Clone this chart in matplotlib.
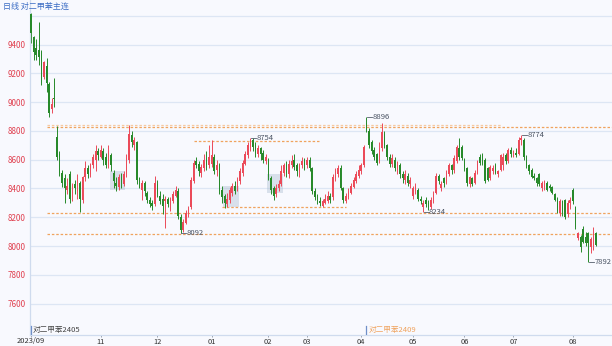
import numpy as np
import matplotlib
matplotlib.use('Agg')
import matplotlib.pyplot as plt

plt.rcParams['font.family'] = ['Noto Sans CJK SC', 'DejaVu Sans']

# 日K数据（按交易日顺序），2023/09 - 2024/08
opens = [
    9614, 9454, 9380, 9365, 9350, 9176, 9250, 9130, 8950, 9030,
    8760, 8640, 8510, 8470, 8390, 8500, 8340, 8430, 8380, 8440,
    8320, 8480, 8540, 8500, 8560, 8600, 8660, 8620, 8660, 8620,
    8560, 8630, 8510, 8440, 8410, 8480, 8430, 8500, 8600, 8770,
    8700, 8720, 8470, 8390, 8440, 8370, 8320, 8300, 8290, 8430,
    8350, 8330, 8310, 8330, 8260, 8310, 8350, 8380, 8200, 8110,
    8160, 8220, 8270, 8450, 8590, 8570, 8510, 8540, 8610, 8560,
    8570, 8620, 8530, 8560, 8390, 8350, 8290, 8320, 8370, 8420,
    8390, 8450, 8510, 8570, 8630, 8680, 8740, 8700, 8640, 8680,
    8650, 8590, 8600, 8470, 8400, 8360, 8400, 8430, 8510, 8560,
    8500, 8560, 8600, 8560, 8520, 8560, 8600, 8560, 8600, 8540,
    8380, 8340, 8310, 8280, 8300, 8310, 8350, 8340, 8470, 8500,
    8540, 8400, 8310, 8340, 8370, 8410, 8450, 8490, 8520, 8560,
    8855, 8800, 8720, 8670, 8640, 8600, 8680, 8780, 8700, 8620,
    8570, 8600, 8530, 8560, 8500, 8460, 8490, 8430, 8350, 8380,
    8390, 8330, 8270, 8320, 8300, 8270, 8310, 8370, 8490, 8400,
    8470, 8440, 8500, 8560, 8530, 8590, 8680, 8690, 8600, 8540,
    8430, 8470, 8440, 8510, 8620, 8630, 8600, 8540, 8470, 8520,
    8560, 8500, 8530, 8560, 8630, 8590, 8670, 8640, 8650, 8640,
    8740, 8740, 8610, 8560, 8530, 8490, 8470, 8500, 8400, 8410,
    8440, 8420, 8410, 8360, 8330, 8230, 8310, 8320, 8220, 8300,
    8390, 8270, 8055, 8060, 8120, 8060, 8090, 7990, 8000, 8090,
]
highs = [
    9620, 9460, 9440, 9560, 9363, 9290, 9310, 9140, 9030, 9170,
    8838, 8660, 8530, 8500, 8470, 8520, 8440, 8460, 8500, 8450,
    8490, 8590, 8560, 8580, 8640, 8700, 8680, 8700, 8680, 8650,
    8700, 8650, 8530, 8480, 8500, 8510, 8520, 8640, 8842, 8800,
    8760, 8730, 8480, 8460, 8450, 8380, 8340, 8320, 8490, 8460,
    8380, 8360, 8350, 8340, 8340, 8380, 8420, 8400, 8220, 8190,
    8250, 8280, 8480, 8600, 8620, 8590, 8570, 8640, 8660, 8700,
    8740, 8640, 8600, 8580, 8420, 8360, 8370, 8410, 8440, 8450,
    8480, 8540, 8600, 8660, 8720, 8754, 8750, 8720, 8700, 8690,
    8670, 8640, 8610, 8490, 8420, 8430, 8460, 8560, 8580, 8590,
    8600, 8630, 8640, 8580, 8580, 8620, 8610, 8620, 8620, 8550,
    8400, 8360, 8340, 8330, 8360, 8380, 8370, 8500, 8540, 8560,
    8560, 8410, 8370, 8400, 8440, 8480, 8520, 8560, 8580, 8700,
    8896, 8820, 8740, 8690, 8650, 8720, 8855, 8800, 8710, 8640,
    8640, 8620, 8590, 8580, 8520, 8530, 8510, 8480, 8420, 8440,
    8400, 8350, 8320, 8340, 8320, 8340, 8380, 8510, 8500, 8450,
    8480, 8530, 8580, 8570, 8630, 8700, 8750, 8700, 8610, 8550,
    8490, 8480, 8530, 8600, 8640, 8650, 8610, 8550, 8560, 8560,
    8580, 8530, 8640, 8650, 8650, 8680, 8690, 8670, 8680, 8760,
    8774, 8750, 8630, 8570, 8540, 8510, 8480, 8510, 8450, 8460,
    8450, 8430, 8420, 8370, 8340, 8330, 8320, 8330, 8320, 8340,
    8400, 8280, 8100, 8080, 8140, 8100, 8100, 8060, 8130, 8100,
]
lows = [
    9410, 9294, 9294, 9260, 9120, 9160, 9071, 8897, 8925, 8970,
    8600, 8490, 8410, 8300, 8360, 8300, 8310, 8360, 8330, 8237,
    8300, 8450, 8470, 8480, 8540, 8520, 8600, 8610, 8560, 8540,
    8540, 8520, 8400, 8380, 8390, 8400, 8420, 8480, 8580, 8690,
    8670, 8430, 8400, 8320, 8350, 8300, 8270, 8250, 8280, 8340,
    8290, 8220, 8125, 8270, 8240, 8300, 8340, 8190, 8092, 8100,
    8150, 8200, 8260, 8440, 8540, 8490, 8480, 8520, 8530, 8540,
    8550, 8500, 8490, 8360, 8300, 8262, 8270, 8300, 8350, 8360,
    8380, 8430, 8490, 8560, 8610, 8660, 8660, 8620, 8620, 8600,
    8580, 8570, 8460, 8360, 8320, 8340, 8380, 8420, 8490, 8480,
    8470, 8540, 8530, 8490, 8480, 8540, 8530, 8540, 8520, 8360,
    8320, 8290, 8280, 8270, 8290, 8300, 8300, 8320, 8450, 8480,
    8390, 8300, 8300, 8330, 8360, 8400, 8440, 8470, 8500, 8550,
    8790, 8680, 8640, 8600, 8560, 8580, 8660, 8680, 8600, 8550,
    8550, 8520, 8500, 8470, 8440, 8430, 8420, 8400, 8330, 8360,
    8310, 8290, 8234, 8270, 8250, 8260, 8300, 8360, 8430, 8380,
    8410, 8430, 8490, 8500, 8510, 8580, 8600, 8600, 8520, 8420,
    8410, 8420, 8430, 8500, 8560, 8560, 8440, 8450, 8460, 8500,
    8500, 8480, 8520, 8530, 8570, 8580, 8620, 8620, 8620, 8630,
    8700, 8600, 8540, 8500, 8470, 8460, 8420, 8420, 8380, 8390,
    8380, 8380, 8360, 8310, 8230, 8210, 8210, 8190, 8200, 8260,
    8290, 8120, 8040, 7960, 8020, 8000, 7892, 7950, 7970, 8000,
]
closes = [
    9480, 9350, 9330, 9315, 9134, 9280, 9134, 8925, 8985, 9020,
    8620, 8510, 8440, 8400, 8420, 8330, 8420, 8400, 8470, 8330,
    8480, 8540, 8500, 8560, 8620, 8660, 8630, 8670, 8600, 8560,
    8660, 8560, 8450, 8420, 8480, 8460, 8500, 8610, 8780, 8720,
    8740, 8460, 8430, 8440, 8380, 8320, 8290, 8280, 8440, 8360,
    8310, 8280, 8330, 8290, 8320, 8360, 8390, 8210, 8110, 8170,
    8230, 8260, 8460, 8580, 8560, 8520, 8550, 8600, 8560, 8620,
    8630, 8520, 8560, 8380, 8340, 8300, 8330, 8390, 8420, 8380,
    8460, 8520, 8580, 8640, 8700, 8740, 8690, 8650, 8680, 8640,
    8600, 8620, 8480, 8390, 8350, 8400, 8430, 8520, 8560, 8510,
    8570, 8590, 8550, 8520, 8560, 8590, 8560, 8600, 8540, 8380,
    8340, 8310, 8300, 8310, 8330, 8350, 8320, 8480, 8520, 8540,
    8400, 8320, 8350, 8380, 8420, 8460, 8500, 8530, 8560, 8690,
    8810, 8700, 8660, 8620, 8580, 8680, 8790, 8700, 8620, 8570,
    8610, 8540, 8560, 8500, 8470, 8500, 8440, 8460, 8400, 8410,
    8330, 8310, 8300, 8290, 8270, 8320, 8360, 8490, 8450, 8430,
    8440, 8510, 8560, 8530, 8610, 8690, 8620, 8610, 8540, 8440,
    8480, 8430, 8510, 8590, 8580, 8570, 8450, 8460, 8550, 8540,
    8510, 8520, 8630, 8620, 8590, 8670, 8640, 8650, 8630, 8740,
    8750, 8620, 8560, 8520, 8480, 8470, 8440, 8430, 8440, 8450,
    8390, 8400, 8370, 8320, 8240, 8310, 8230, 8200, 8300, 8320,
    8310, 8130, 8090, 7990, 8030, 8020, 8020, 8050, 8070, 8010,
]

# 每月交易日数 / 月份标签
month_days = [10, 17, 22, 21, 22, 15, 21, 20, 20, 19, 23, 10]
month_labels = ['2023/09', '10', '11', '12', '01', '02', '03', '04', '05', '06', '07', '08']

# 支撑/压力线
sr_levels = [8842, 8826, 8728, 8272, 8228, 8081]
sr_start = [6, 6, 63, 74, 6, 6]
sr_end = [182, 226, 112, 122, 226, 226]

# 整理区间方框
zone_first = [31, 75, 92]
zone_last = [36, 80, 97]
zone_low = [8390, 8271, 8369]
zone_high = [8522, 8417, 8501]

# 标注的高低点
mark_high_idx = [85, 130, 190]
mark_low_idx = [58, 152, 216]

# 合约切换
contract_idx = [0, 130]
contract_names = ['对二甲苯2405', '对二甲苯2409']

o = np.array(opens); h = np.array(highs); l = np.array(lows); c = np.array(closes)
x = np.arange(len(c))
up = c >= o
red, green = '#eb4a59', '#27892a'
cols = np.where(up, red, green)

fig = plt.figure(figsize=(6.12, 3.46), dpi=100)
fig.patch.set_facecolor('#f8f9fe')
ax = fig.add_axes([30 / 612, 11 / 346, 582 / 612, 335 / 346])
ax.set_facecolor('#f8f9fe')

ax.set_xlim(-0.4, 225.2)
ax.set_ylim(7381, 9711)

for yv in range(7600, 9601, 200):
    ax.axhline(yv, color='#dde6f4', lw=0.9, zorder=0)

# 方框
for a, b, lo, hi in zip(zone_first, zone_last, zone_low, zone_high):
    ax.add_patch(plt.Rectangle((a - 0.5, lo), b - a + 1, hi - lo,
                               facecolor='#9fb4c8', alpha=0.35, edgecolor='none', zorder=1))

# 虚线
for k, (lv, s, e) in enumerate(zip(sr_levels, sr_start, sr_end)):
    col = '#f6c9a0' if k == 0 else '#f0a35e'
    ax.plot([s, e], [lv, lv], color=col, lw=0.9, ls=(0, (2, 1.5)), zorder=1)

# K线
ax.vlines(x, l, h, colors=cols, lw=0.7, zorder=2)
ax.bar(x, np.maximum(np.abs(c - o), 4), bottom=np.minimum(o, c), width=0.62,
       color=cols, linewidth=0, zorder=3)

# 高低点标注
for i in mark_high_idx:
    ax.plot([i + 0.3, i + 2.2], [h[i], h[i]], color='#555e6c', lw=0.6, zorder=4)
    ax.text(i + 2.3, h[i], str(h[i]), fontsize=5.5, color='#4a5363', va='center', ha='left')
for i in mark_low_idx:
    ax.plot([i + 0.3, i + 2.2], [l[i], l[i]], color='#555e6c', lw=0.6, zorder=4)
    ax.text(i + 2.3, l[i], str(l[i]), fontsize=5.5, color='#4a5363', va='center', ha='left')

# 合约标签
for i, name, col in zip(contract_idx, contract_names, ['#444444', '#f0a35e']):
    ax.plot([i, i], [7390, 7445], color='#6f8fc8', lw=0.9, zorder=4)
    ax.text(i + 0.8, 7415, name, fontsize=5.5, color=col, va='center', ha='left')

# 坐标轴
ax.set_yticks(range(7600, 9601, 200))
ax.set_yticklabels([str(v) if v < 9600 else '' for v in range(7600, 9601, 200)])
ax.tick_params(axis='y', length=0, labelsize=5.8, labelcolor='#e0404f', pad=3)

starts = np.concatenate([[0], np.cumsum(month_days)[:-1]])
tick_pos = [p for p, lab in zip(starts, month_labels) if lab != '10']
tick_lab = [lab for lab in month_labels if lab != '10']
ax.set_xticks(tick_pos)
ax.set_xticklabels(tick_lab)
ax.tick_params(axis='x', length=1.5, width=0.6, color='#8a93a3', labelsize=5.4,
               labelcolor='#333333', pad=0.3)

for s in ['top', 'right']:
    ax.spines[s].set_visible(False)
for s in ['left', 'bottom']:
    ax.spines[s].set_color('#cfdbee')
    ax.spines[s].set_linewidth(0.9)

fig.text(3 / 612, 1 - 6 / 346, '日线 对二甲苯主连', fontsize=5.8, color='#3b6cc4',
         va='center', ha='left')

fig.savefig('out.png', dpi=100, facecolor=fig.get_facecolor())
